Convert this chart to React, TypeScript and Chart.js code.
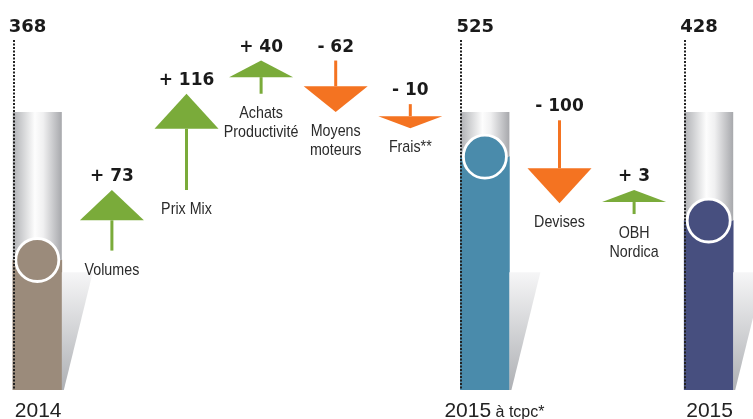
import { useEffect, useRef } from "react";
import { Chart, registerables } from "chart.js";

Chart.register(...registerables);

// ---- data ----
const categories: string[][] = [
  ["2014"],
  ["Volumes"],
  ["Prix Mix"],
  ["Achats", "Productivité"],
  ["Moyens", "moteurs"],
  ["Frais**"],
  ["2015", "à tcpc*"],
  ["Devises"],
  ["OBH", "Nordica"],
  ["2015"],
];
const totalValues: (number | null)[] = [368, null, null, null, null, null, 525, null, null, 428];
const changeValues: (number | null)[] = [null, 73, 116, 40, -62, -10, null, -100, 3, null];

// ---- styles ----
const totalColors = ["#9b8b7b", "#9b8b7b", "#9b8b7b", "#9b8b7b", "#9b8b7b", "#9b8b7b", "#4a8bab", "#4a8bab", "#4a8bab", "#474f7f"];
const GREEN = "#7aab3a";
const ORANGE = "#f47321";
const LABEL_FONT = '"Liberation Sans", sans-serif';
const VALUE_FONT = '"DejaVu Sans", sans-serif';

// waterfall ranges built from the values
const changeRanges: ([number, number] | null)[] = (() => {
  let running = 0;
  return categories.map((_, i) => {
    const t = totalValues[i];
    if (t != null) {
      running = t;
      return null;
    }
    const d = changeValues[i] as number;
    const s = running;
    running += d;
    return [s, running] as [number, number];
  });
})();

const fmtChange = (d: number) => (d >= 0 ? "+ " : "- ") + Math.abs(d);

// condensed text via horizontal scaling
function narrowText(ctx: CanvasRenderingContext2D, text: string, x: number, y: number, sx: number) {
  ctx.save();
  ctx.translate(x, y);
  ctx.scale(sx, 1);
  ctx.fillText(text, 0, 0);
  ctx.restore();
}

const decorPlugin = {
  id: "decor",
  afterDatasetsDraw(chart: any) {
    const ctx: CanvasRenderingContext2D = chart.ctx;
    const { top, bottom } = chart.chartArea;
    const y2 = chart.scales.y2;
    ctx.save();

    // totals: tube, shadow, circle, dotted line, labels
    const metaT = chart.getDatasetMeta(0);
    metaT.data.forEach((el: any, i: number) => {
      const v = totalValues[i];
      if (v == null) return;
      const { x, y, width } = el.getProps(["x", "y", "width"], true);
      const left = x - width / 2;
      const right = x + width / 2;

      const g = ctx.createLinearGradient(left, 0, right, 0);
      g.addColorStop(0, "#b0b1b5");
      g.addColorStop(0.18, "#cecfd1");
      g.addColorStop(0.45, "#fdfdfd");
      g.addColorStop(0.62, "#f0f0f1");
      g.addColorStop(1, "#a7a8ac");
      ctx.fillStyle = g;
      ctx.fillRect(left, top, width, y - top);

      const st = top + (bottom - top) * 0.576;
      const sg = ctx.createLinearGradient(0, st, 0, bottom);
      sg.addColorStop(0, "#f6f6f7");
      sg.addColorStop(1, "#aeb0b4");
      ctx.fillStyle = sg;
      ctx.beginPath();
      ctx.moveTo(right, st);
      ctx.lineTo(right + 31, st);
      ctx.lineTo(right + 2, bottom);
      ctx.lineTo(right, bottom);
      ctx.closePath();
      ctx.fill();

      ctx.beginPath();
      ctx.arc(x, y, 21.5, 0, Math.PI * 2);
      ctx.fillStyle = totalColors[i];
      ctx.fill();
      ctx.lineWidth = 2.8;
      ctx.strokeStyle = "#ffffff";
      ctx.stroke();

      const dx = Math.round(left) + 1;
      ctx.beginPath();
      ctx.setLineDash([2, 1.5]);
      ctx.lineWidth = 2;
      ctx.strokeStyle = "#222222";
      ctx.moveTo(dx, 40);
      ctx.lineTo(dx, bottom);
      ctx.stroke();
      ctx.setLineDash([]);

      ctx.fillStyle = "#1a1a1a";
      ctx.font = "bold 18px " + VALUE_FONT;
      ctx.textAlign = "left";
      ctx.textBaseline = "alphabetic";
      ctx.fillText(String(v), left - 4, 31.5);

      const lines = categories[i];
      ctx.fillStyle = "#222222";
      ctx.font = "21px " + LABEL_FONT;
      const mainW = ctx.measureText(lines[0]).width;
      const sx = lines[1] ? left - 16 : left + 2;
      ctx.fillText(lines[0], sx, 416.5);
      if (lines[1]) {
        ctx.font = "16px " + LABEL_FONT;
        ctx.fillText(" " + lines[1], sx + mainW, 416.5);
      }
    });

    // change arrows
    const metaC = chart.getDatasetMeta(1);
    metaC.data.forEach((el: any, i: number) => {
      const d = changeValues[i];
      const r = changeRanges[i];
      if (d == null || r == null) return;
      const x = el.x;
      let start = y2.getPixelForValue(r[0]);
      let tip = y2.getPixelForValue(r[1]);
      const dir = d >= 0 ? -1 : 1;
      let len = Math.abs(tip - start);
      if (len < 24) {
        const mid = (start + tip) / 2;
        start = mid - dir * 12;
        tip = mid + dir * 12;
        len = 24;
      }
      const head = Math.max(11, Math.min(35, len * 0.5));
      const headBase = tip - dir * head;
      const color = d >= 0 ? GREEN : ORANGE;
      ctx.fillStyle = color;
      ctx.fillRect(x - 1.5, Math.min(start, headBase), 3, Math.abs(headBase - start));
      ctx.beginPath();
      ctx.moveTo(x, tip);
      ctx.lineTo(x - 32, headBase);
      ctx.lineTo(x + 32, headBase);
      ctx.closePath();
      ctx.fill();

      const upper = Math.min(start, tip);
      const lower = Math.max(start, tip);
      ctx.fillStyle = "#1a1a1a";
      ctx.font = "bold 17px " + VALUE_FONT;
      ctx.textAlign = "center";
      ctx.textBaseline = "alphabetic";
      ctx.fillText(fmtChange(d), x, upper - 9);

      ctx.fillStyle = "#2b2b2b";
      ctx.font = "17px " + LABEL_FONT;
      categories[i].forEach((line, k) => {
        narrowText(ctx, line, x, lower + 24 + k * 19, 0.84);
      });
    });

    ctx.restore();
  },
};

export default function App() {
  const ref = useRef<HTMLCanvasElement | null>(null);
  useEffect(() => {
    if (!ref.current) return;
    const chart = new Chart(ref.current, {
      type: "bar",
      data: {
        labels: categories.map((c) => c.join(" ")),
        datasets: [
          {
            label: "Total",
            data: totalValues as any,
            yAxisID: "y",
            backgroundColor: totalColors,
            barThickness: 49,
            grouped: false,
          },
          {
            label: "Variation",
            data: changeRanges as any,
            yAxisID: "y2",
            backgroundColor: "rgba(0,0,0,0)",
            barThickness: 64,
            grouped: false,
          },
        ],
      },
      options: {
        animation: false,
        responsive: false,
        maintainAspectRatio: false,
        layout: { padding: { top: 112, bottom: 29, left: 0, right: 7 } },
        plugins: { legend: { display: false }, tooltip: { enabled: false } },
        scales: {
          x: { type: "category", offset: true, display: false, grid: { display: false } },
          y: { type: "linear", min: 170.4, max: 592.9, display: false },
          y2: { type: "linear", min: 200, max: 535, display: false },
        },
      },
      plugins: [decorPlugin],
    });
    return () => chart.destroy();
  }, []);
  return (
    <div style={{ position: "absolute", left: 0, top: 0, width: 753, height: 419, background: "#ffffff" }}>
      <canvas ref={ref} width={753} height={419} style={{ width: 753, height: 419, display: "block" }} />
    </div>
  );
}
